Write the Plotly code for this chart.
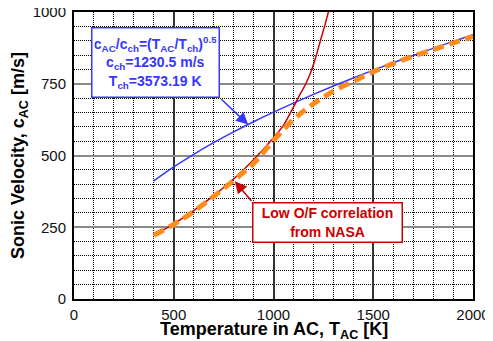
import plotly.graph_objects as go

# Blue: c_AC = c_ch * (T_AC/T_ch)^0.5 read at sample temperatures
blue_T = [400, 500, 600, 700, 800, 900, 1000, 1100, 1200, 1300, 1400, 1500, 1600, 1700, 1800, 1900, 2000]
blue_c = [411.7, 460.3, 504.2, 544.6, 582.2, 617.6, 651.0, 682.7, 713.1, 742.2, 770.2, 797.3, 823.4, 848.7, 873.3, 897.3, 920.6]

# Red: low O/F correlation from NASA
red_T = [400, 500, 600, 700, 800, 900, 1000, 1050, 1086, 1123, 1162, 1192, 1215, 1235, 1256, 1275, 1285]
red_c = [222, 262, 308, 360, 418, 485, 562, 605, 650, 700, 750, 800, 850, 900, 950, 1000, 1025]

# Orange dashed
orange_T = [400, 500, 600, 700, 800, 900, 1000, 1100, 1200, 1300, 1400, 1500, 1600, 1700, 1800, 1900, 2000]
orange_c = [222, 260, 305, 357, 413, 472, 552, 625, 680, 724, 758, 792, 820, 846, 869, 892, 915]

x_ticks = [0, 500, 1000, 1500, 2000]
y_ticks = [0, 250, 500, 750, 1000]

FONT = "Liberation Sans, Arial, sans-serif"
BLUE = "#3636ff"
RED = "#cc0000"
ORANGE = "#ff8c1a"

fig = go.Figure()
fig.add_trace(go.Scatter(x=blue_T, y=blue_c, mode="lines", line=dict(color=BLUE, width=1.5, shape="spline"), showlegend=False))
fig.add_trace(go.Scatter(x=red_T, y=red_c, mode="lines", line=dict(color=RED, width=1.5, shape="spline", smoothing=0.6), showlegend=False))
fig.add_trace(go.Scatter(x=orange_T, y=orange_c, mode="lines", line=dict(color=ORANGE, width=5, dash="11px,6px", shape="spline"), showlegend=False))

axis_common = dict(
    showline=True, linecolor="black", linewidth=2, mirror=True,
    showgrid=True, gridwidth=1.5, automargin=False,
    zeroline=False, ticks="", ticklabeloverflow="allow",
    tickfont=dict(family=FONT, size=15, color="#111111"),
)

fig.update_xaxes(
    range=[0, 2000], tickvals=x_ticks, gridcolor="#333333", ticklabelstandoff=1, **axis_common,
    minor=dict(dtick=100, showgrid=True, gridcolor="#000000", griddash="1px,1px", gridwidth=1.2),
)
fig.update_yaxes(
    range=[0, 1000], tickvals=y_ticks, gridcolor="#8a8a8a", ticklabelstandoff=3, **axis_common,
    minor=dict(dtick=50, showgrid=True, gridcolor="#000000", griddash="1px,1px", gridwidth=1.2),
    title=dict(text="<b>Sonic Velocity, c<sub>AC</sub> [m/s]</b>", font=dict(family=FONT, size=18, color="black"), standoff=8),
)

# x-axis title, placed just under the tick labels
fig.add_annotation(
    x=0.5, y=-0.109, xref="paper", yref="paper", xanchor="center", yanchor="middle",
    showarrow=False, text="<b>Temperature in AC, T<sub>AC</sub> [K]</b>",
    font=dict(family=FONT, size=18, color="black"),
)

fig.add_annotation(
    x=410, y=823, xref="x", yref="y", showarrow=False,
    text="<b>c<sub>AC</sub>/c<sub>ch</sub>=(T<sub>AC</sub>/T<sub>ch</sub>)<sup>0.5</sup><br>c<sub>ch</sub>=1230.5 m/s<br>T<sub>ch</sub>=3573.19 K</b>",
    font=dict(family=FONT, size=14, color=BLUE),
    bgcolor="white", bordercolor=BLUE, borderwidth=1.5, borderpad=2,
    width=122, height=64, align="center",
)
fig.add_annotation(
    x=873, y=608, xref="x", yref="y", ax=731, ay=701, axref="x", ayref="y",
    text="", showarrow=True, arrowhead=2, arrowsize=1.6, arrowwidth=1.5, arrowcolor=BLUE,
)
fig.add_annotation(
    x=1272, y=266, xref="x", yref="y", showarrow=False,
    text="<b>Low O/F correlation<br>from NASA</b>",
    font=dict(family=FONT, size=14, color=RED),
    bgcolor="white", bordercolor=RED, borderwidth=1.5, borderpad=2,
    width=144, height=34, align="center",
)
fig.add_annotation(
    x=806, y=410, xref="x", yref="y", ax=896, ay=336, axref="x", ayref="y",
    text="", showarrow=True, arrowhead=2, arrowsize=1.6, arrowwidth=1.5, arrowcolor=RED,
)

# the page body adds an 8px margin: the margins are shifted to compensate
fig.update_layout(
    width=493, height=341,
    margin=dict(l=66, r=27.5, t=4, b=49.7, autoexpand=False),
    plot_bgcolor="white", paper_bgcolor="white",
    showlegend=False,
)

fig.write_html("out.html")
